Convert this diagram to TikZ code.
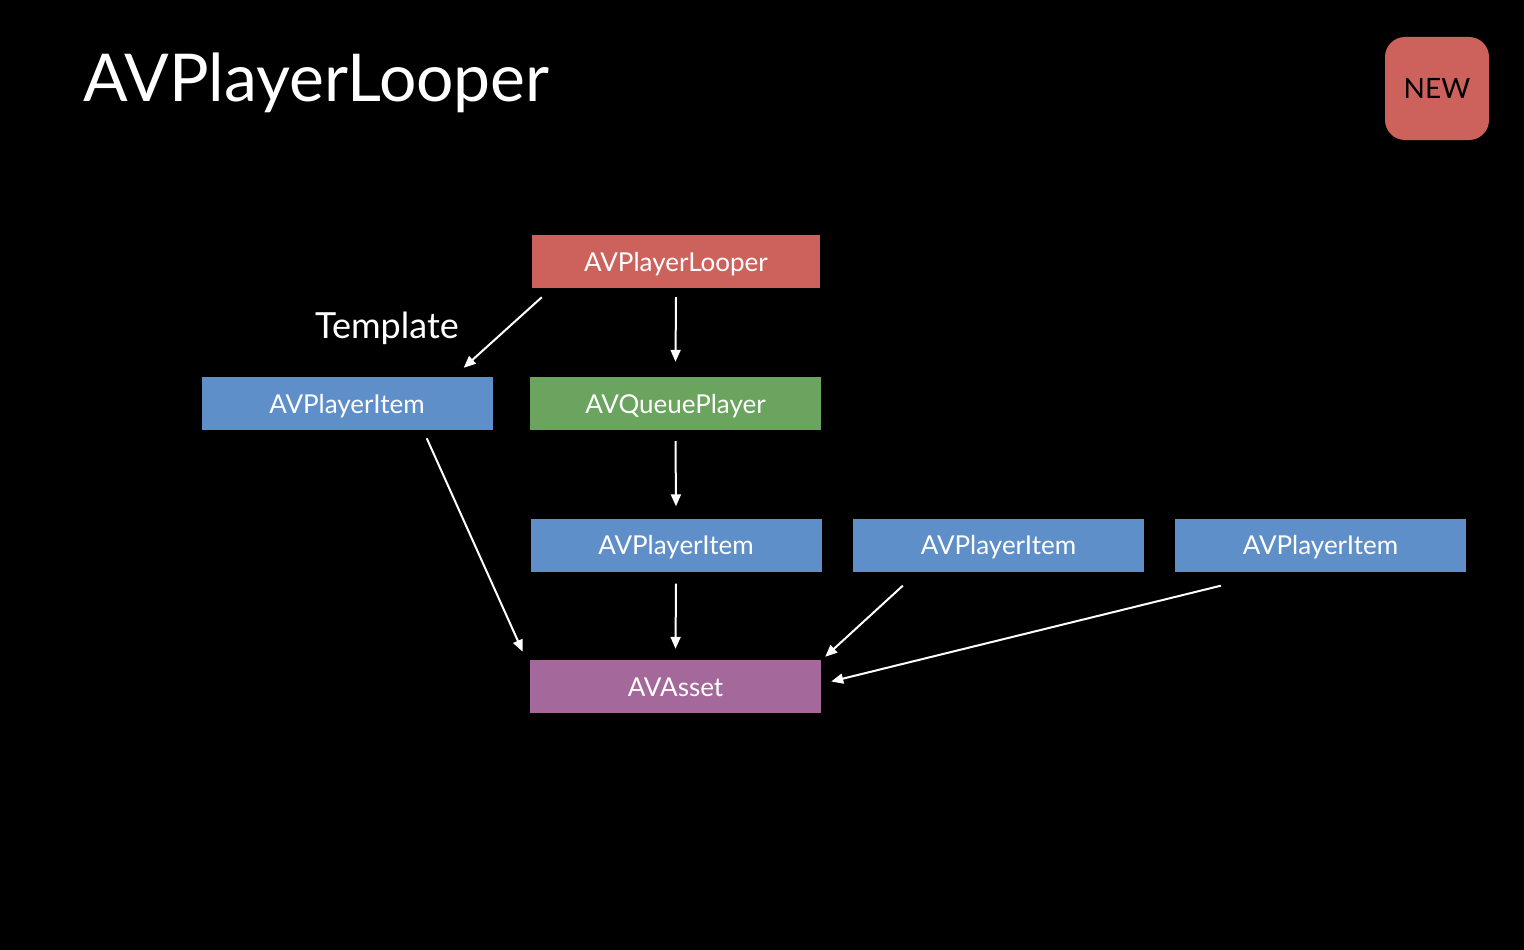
\documentclass[tikz,border=0pt]{standalone}
\usepackage{fontspec}
\setmainfont{Lato}
\usetikzlibrary{arrows.meta}
\definecolor{cred}{HTML}{CD625D}
\definecolor{cblue}{HTML}{5F8FC8}
\definecolor{cgreen}{HTML}{6AA45E}
\definecolor{cpurple}{HTML}{A5689A}
\tikzset{
  box/.style={draw=none, minimum width=291pt, minimum height=53pt, inner sep=0pt, text=white, font=\fontsize{26}{30}\selectfont, text depth=0pt, text height=19pt},
  conn/.style={draw=white, line width=2pt, -{Triangle[length=12pt,width=10pt]}},
}
\begin{document}
\begin{tikzpicture}[x=1pt,y=-1pt]
\fill[black] (0,0) rectangle (1524,950);
\useasboundingbox (0,0) rectangle (1524,950);
\node[anchor=base west, text=white, font=\fontsize{66}{74}\selectfont, inner sep=0pt] (title) at (83,102) {AVPlayerLooper};
\node[fill=cred, rounded corners=20pt, minimum width=104pt, minimum height=103pt, inner sep=0pt, font=\fontsize{28}{32}\selectfont, text=black] (new) at (1437,88.5) {NEW};
\node[box, fill=cred, minimum width=288pt] (loop) at (676,261.5) {AVPlayerLooper};
\node[box, fill=cblue] (tmpl) at (347,403.5) {AVPlayerItem};
\node[box, fill=cgreen] (queue) at (675.5,403.5) {AVQueuePlayer};
\node[box, fill=cblue] (item1) at (676,545) {AVPlayerItem};
\node[box, fill=cblue] (item2) at (998.5,545) {AVPlayerItem};
\node[box, fill=cblue] (item3) at (1320.5,545) {AVPlayerItem};
\node[box, fill=cpurple] (asset) at (675.5,686.5) {AVAsset};
\node[text=white, font=\fontsize{36}{40}\selectfont, inner sep=0pt] (tlabel) at (387,328) {Template};
\draw[conn] ([shift={(10,9)}]loop.south west) -- ([shift={(-29,-9)}]tmpl.north east);
\draw[conn] ([shift={(0,9)}]loop.south) -- ([shift={(0,-15)}]queue.north);
\draw[conn] ([shift={(0,11)}]queue.south) -- ([shift={(0,-12)}]item1.north);
\draw[conn] ([shift={(0,12)}]item1.south) -- ([shift={(0,-11)}]asset.north);
\draw[conn] ([shift={(-66,8)}]tmpl.south east) -- ([shift={(-7,-8)}]asset.north west);
\draw[conn] ([shift={(50,14)}]item2.south west) -- ([shift={(4,-3)}]asset.north east);
\draw[conn] ([shift={(46,14)}]item3.south west) -- ([shift={(10,-5)}]asset.east);
\end{tikzpicture}
\end{document}
